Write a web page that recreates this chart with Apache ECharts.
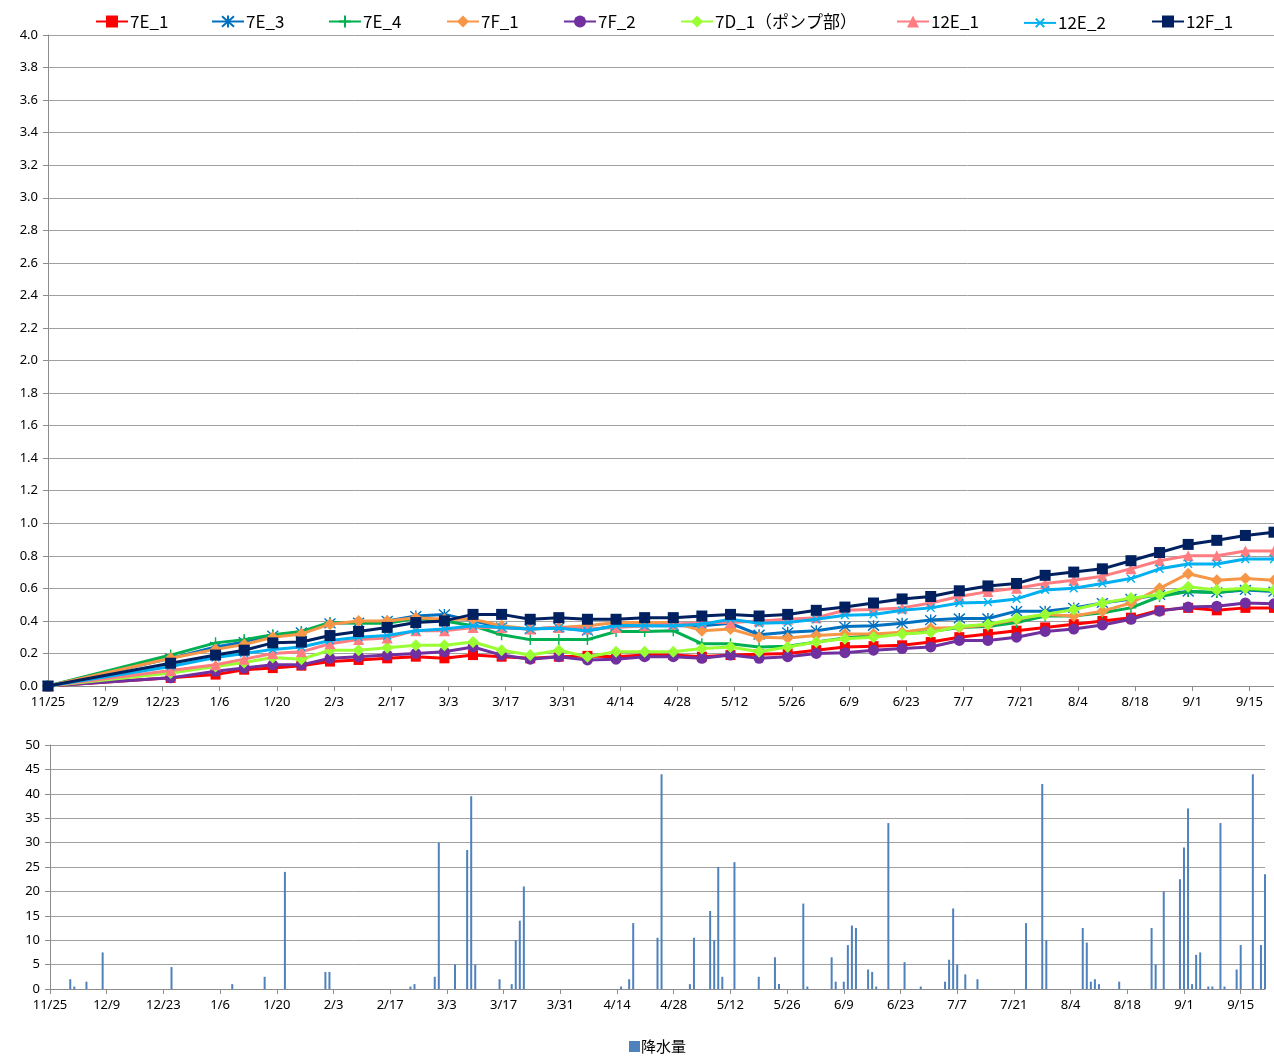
<!DOCTYPE html>
<html><head><meta charset="utf-8">
<script src="https://cdn.jsdelivr.net/npm/echarts/dist/echarts.min.js"></script>
<style>html,body{margin:0;padding:0;background:#fff}#c{width:1274px;height:1056px}</style>
</head><body><div id="c"></div>
<script>
// ---------- DATA ----------
const measureDates = ['11/25','12/25','1/5','1/12','1/19','1/26','2/2','2/9','2/16','2/23',
  '3/2','3/9','3/16','3/23','3/30','4/6','4/13','4/20','4/27','5/4',
  '5/11','5/18','5/25','6/1','6/8','6/15','6/22','6/29','7/6','7/13',
  '7/20','7/27','8/3','8/10','8/17','8/24','8/31','9/7','9/14','9/21'];
const s7E_1 = [0,0.05,0.07,0.10,0.11,0.125,0.15,0.16,0.17,0.18, 0.17,0.19,0.18,0.17,0.18,0.185,0.18,0.19,0.19,0.18, 0.19,0.195,0.20,0.22,0.24,0.245,0.25,0.27,0.30,0.32, 0.34,0.36,0.38,0.40,0.42,0.465,0.48,0.465,0.48,0.48];
const s7E_3 = [0,0.17,0.24,0.27,0.31,0.33,0.385,0.39,0.40,0.43, 0.44,0.40,0.36,0.35,0.36,0.34,0.37,0.37,0.37,0.37, 0.385,0.315,0.33,0.34,0.365,0.37,0.385,0.405,0.415,0.415, 0.46,0.46,0.48,0.51,0.535,0.56,0.58,0.575,0.59,0.58];
const s7E_4 = [0,0.19,0.265,0.285,0.315,0.335,0.39,0.385,0.385,0.415, 0.40,0.37,0.315,0.285,0.285,0.285,0.335,0.335,0.34,0.26, 0.26,0.24,0.245,0.27,0.295,0.31,0.32,0.335,0.36,0.365, 0.39,0.43,0.43,0.45,0.48,0.55,0.58,0.575,0.595,0.585];
const s7F_1 = [0,0.17,0.225,0.255,0.30,0.32,0.38,0.40,0.40,0.42, 0.41,0.41,0.37,0.35,0.36,0.37,0.39,0.39,0.39,0.34, 0.35,0.30,0.295,0.31,0.32,0.32,0.33,0.355,0.36,0.375, 0.41,0.44,0.43,0.46,0.51,0.60,0.69,0.65,0.66,0.65];
const s7F_2 = [0,0.05,0.09,0.11,0.13,0.13,0.17,0.18,0.19,0.20, 0.21,0.24,0.19,0.165,0.18,0.16,0.165,0.18,0.18,0.17, 0.19,0.17,0.18,0.20,0.205,0.22,0.23,0.24,0.28,0.28, 0.30,0.335,0.35,0.375,0.41,0.46,0.485,0.49,0.51,0.505];
const s7D_1 = [0,0.08,0.12,0.145,0.175,0.165,0.22,0.22,0.235,0.25, 0.25,0.27,0.22,0.19,0.22,0.18,0.21,0.21,0.21,0.23, 0.24,0.21,0.24,0.27,0.29,0.30,0.32,0.33,0.365,0.38, 0.415,0.44,0.47,0.51,0.54,0.56,0.61,0.59,0.60,0.59];
const s12E_1 = [0,0.095,0.13,0.165,0.20,0.21,0.26,0.285,0.295,0.34, 0.34,0.36,0.36,0.35,0.36,0.35,0.36,0.37,0.38,0.39, 0.39,0.40,0.41,0.42,0.465,0.47,0.48,0.51,0.55,0.58, 0.60,0.63,0.65,0.675,0.72,0.77,0.80,0.80,0.83,0.83];
const s12E_2 = [0,0.12,0.175,0.20,0.225,0.24,0.28,0.30,0.31,0.34, 0.35,0.37,0.36,0.35,0.355,0.34,0.37,0.37,0.37,0.38, 0.41,0.385,0.39,0.41,0.435,0.44,0.465,0.48,0.51,0.515, 0.535,0.59,0.60,0.63,0.66,0.72,0.75,0.75,0.78,0.78];
const s12F_1 = [0,0.14,0.19,0.22,0.265,0.27,0.31,0.335,0.36,0.39, 0.40,0.44,0.44,0.41,0.42,0.41,0.41,0.42,0.42,0.43, 0.44,0.43,0.44,0.465,0.485,0.51,0.535,0.55,0.585,0.615, 0.63,0.68,0.70,0.72,0.77,0.82,0.87,0.895,0.925,0.945];

const rainDates = ['11/30','12/1','12/4','12/8','12/25','1/9','1/17','1/22','2/1','2/2','2/22','2/23',
  '2/28','3/1','3/5','3/8','3/9','3/10','3/16','3/19','3/20','3/21','3/22',
  '4/15','4/17','4/18','4/24','4/25','5/2','5/3','5/7','5/8','5/9','5/10','5/13','5/19','5/23','5/24','5/30','5/31',
  '6/6','6/7','6/9','6/10','6/11','6/12','6/15','6/16','6/17','6/20','6/24','6/28',
  '7/4','7/5','7/6','7/7','7/9','7/12','7/24','7/28','7/29',
  '8/7','8/8','8/9','8/10','8/11','8/16','8/24','8/25','8/27','8/31',
  '9/1','9/2','9/3','9/4','9/5','9/7','9/8','9/10','9/11','9/14','9/15','9/18','9/20','9/21'];
const rainValues = [2,0.5,1.5,7.5,4.5,1,2.5,24,3.5,3.5,0.5,1,
  2.5,30,5,28.5,39.5,5,2,1,10,14,21,
  0.5,2,13.5,10.5,44,1,10.5,16,10,25,2.5,26,2.5,6.5,1,17.5,0.5,
  6.5,1.5,1.5,9,13,12.5,4,3.5,0.5,34,5.5,0.5,
  1.5,6,16.5,5,3,2,13.5,42,10,
  12.5,9.5,1.5,2,1,1.5,12.5,5,20,22.5,
  29,37,1,7,7.5,0.5,0.5,34,0.5,4,9,44,9,23.5];

const seriesNames = ['7E_1','7E_3','7E_4','7F_1','7F_2','7D_1（ポンプ部）','12E_1','12E_2','12F_1'];
const seriesValues = [s7E_1,s7E_3,s7E_4,s7F_1,s7F_2,s7D_1,s12E_1,s12E_2,s12F_1];

// ---------- STYLE ----------
const plusPath = 'path://M5,0V10M0,5H10';
const astPath = 'path://M5,0V10M0.6,0.6L9.4,9.4M9.4,0.6L0.6,9.4';
const styles = [
  {color:'#FF0000', symbol:'rect', size:10},
  {color:'#0070C0', symbol:astPath, size:11, stroke:true},
  {color:'#00B050', symbol:plusPath, size:11, stroke:true},
  {color:'#F79646', symbol:'diamond', size:12},
  {color:'#7030A0', symbol:'circle', size:11},
  {color:'#99FF33', symbol:'diamond', size:12},
  {color:'#FF7C80', symbol:'triangle', size:11},
  {color:'#00B0F0', symbol:plusPath, size:11, stroke:true, rotate:45},
  {color:'#002060', symbol:'rect', size:11}
];
const legendLeft = [90,206,323,441,558,675,891,1018,1146];

// daily category axis (11/25 .. 9/21)
const monthSpans = [[11,25,30],[12,1,31],[1,1,31],[2,1,28],[3,1,31],[4,1,30],[5,1,31],[6,1,30],[7,1,31],[8,1,31],[9,1,21]];
const days = [];
monthSpans.forEach(([m,s,e]) => { for (let d = s; d <= e; d++) days.push(m + '/' + d); });

const FONT = '"Noto Sans", sans-serif';
const gridColor = '#A0A0A0';
const axisColor = '#8C8C8C';

const lineSeries = seriesNames.map((name, i) => {
  const st = styles[i];
  return {
    name, type: 'line', xAxisIndex: 0, yAxisIndex: 0,
    data: measureDates.map((d, k) => [d, seriesValues[i][k]]),
    symbol: st.symbol, symbolSize: st.size, symbolRotate: st.rotate || 0,
    showAllSymbol: true, clip: false,
    lineStyle: {color: st.color, width: 3},
    itemStyle: st.stroke ? {color: 'rgba(255,255,255,0)', borderColor: st.color, borderWidth: 1.4}
                         : {color: st.color, borderColor: st.color, borderWidth: 0},
    emphasis: {disabled: true}, z: 2 + i
  };
});

const legends = seriesNames.map((name, i) => ({
  data: [name], left: legendLeft[i], top: 8,
  itemWidth: 32, itemHeight: 15, itemGap: 4,
  textStyle: {fontSize: 17, color: '#000', fontFamily: '"Noto Sans CJK JP", "Noto Sans", sans-serif', padding: [0,0,0,-3]}
}));
legends.push({
  data: ['降水量'], left: 624, top: 1034, icon: 'rect',
  itemWidth: 11, itemHeight: 11,
  textStyle: {fontSize: 15, color: '#000', fontFamily: '"Noto Sans CJK JP", sans-serif', padding: [0,0,0,-4]}
});

const option = {
  animation: false,
  backgroundColor: '#fff',
  legend: legends,
  grid: [
    {left: 48, top: 35, width: 1226, height: 651},
    {left: 50, top: 745, width: 1215, height: 244}
  ],
  xAxis: [
    {type: 'category', gridIndex: 0, data: days, boundaryGap: false,
     axisLine: {lineStyle: {color: axisColor}},
     axisTick: {interval: 13, length: 5, lineStyle: {color: axisColor}},
     axisLabel: {interval: 13, color: '#000', fontSize: 13, fontFamily: FONT, margin: 10},
     splitLine: {show: false}},
    {type: 'category', gridIndex: 1, data: days, boundaryGap: false,
     axisLine: {lineStyle: {color: axisColor}},
     axisTick: {interval: 13, length: 5, lineStyle: {color: axisColor}},
     axisLabel: {interval: 13, color: '#000', fontSize: 13, fontFamily: FONT, margin: 10},
     splitLine: {show: false}}
  ],
  yAxis: [
    {type: 'value', gridIndex: 0, min: 0, max: 4, interval: 0.2,
     axisLine: {show: true, lineStyle: {color: axisColor}},
     axisTick: {show: true, length: 5, lineStyle: {color: axisColor}},
     axisLabel: {color: '#000', fontSize: 13, fontFamily: FONT, margin: 10, formatter: v => v.toFixed(1)},
     splitLine: {lineStyle: {color: gridColor, width: 1}}},
    {type: 'value', gridIndex: 1, min: 0, max: 50, interval: 5,
     axisLine: {show: true, lineStyle: {color: axisColor}},
     axisTick: {show: true, length: 5, lineStyle: {color: axisColor}},
     axisLabel: {color: '#000', fontSize: 13, fontFamily: FONT, margin: 10},
     splitLine: {lineStyle: {color: gridColor, width: 1}}}
  ],
  series: lineSeries.concat([{
    name: '降水量', type: 'bar', xAxisIndex: 1, yAxisIndex: 1,
    data: rainDates.map((d, k) => [d, rainValues[k]]),
    barWidth: 2, itemStyle: {color: '#4F81BD'}, emphasis: {disabled: true}
  }])
};

const chart = echarts.init(document.getElementById('c'), null, {renderer: 'canvas'});
chart.setOption(option);
</script>
</body></html>
